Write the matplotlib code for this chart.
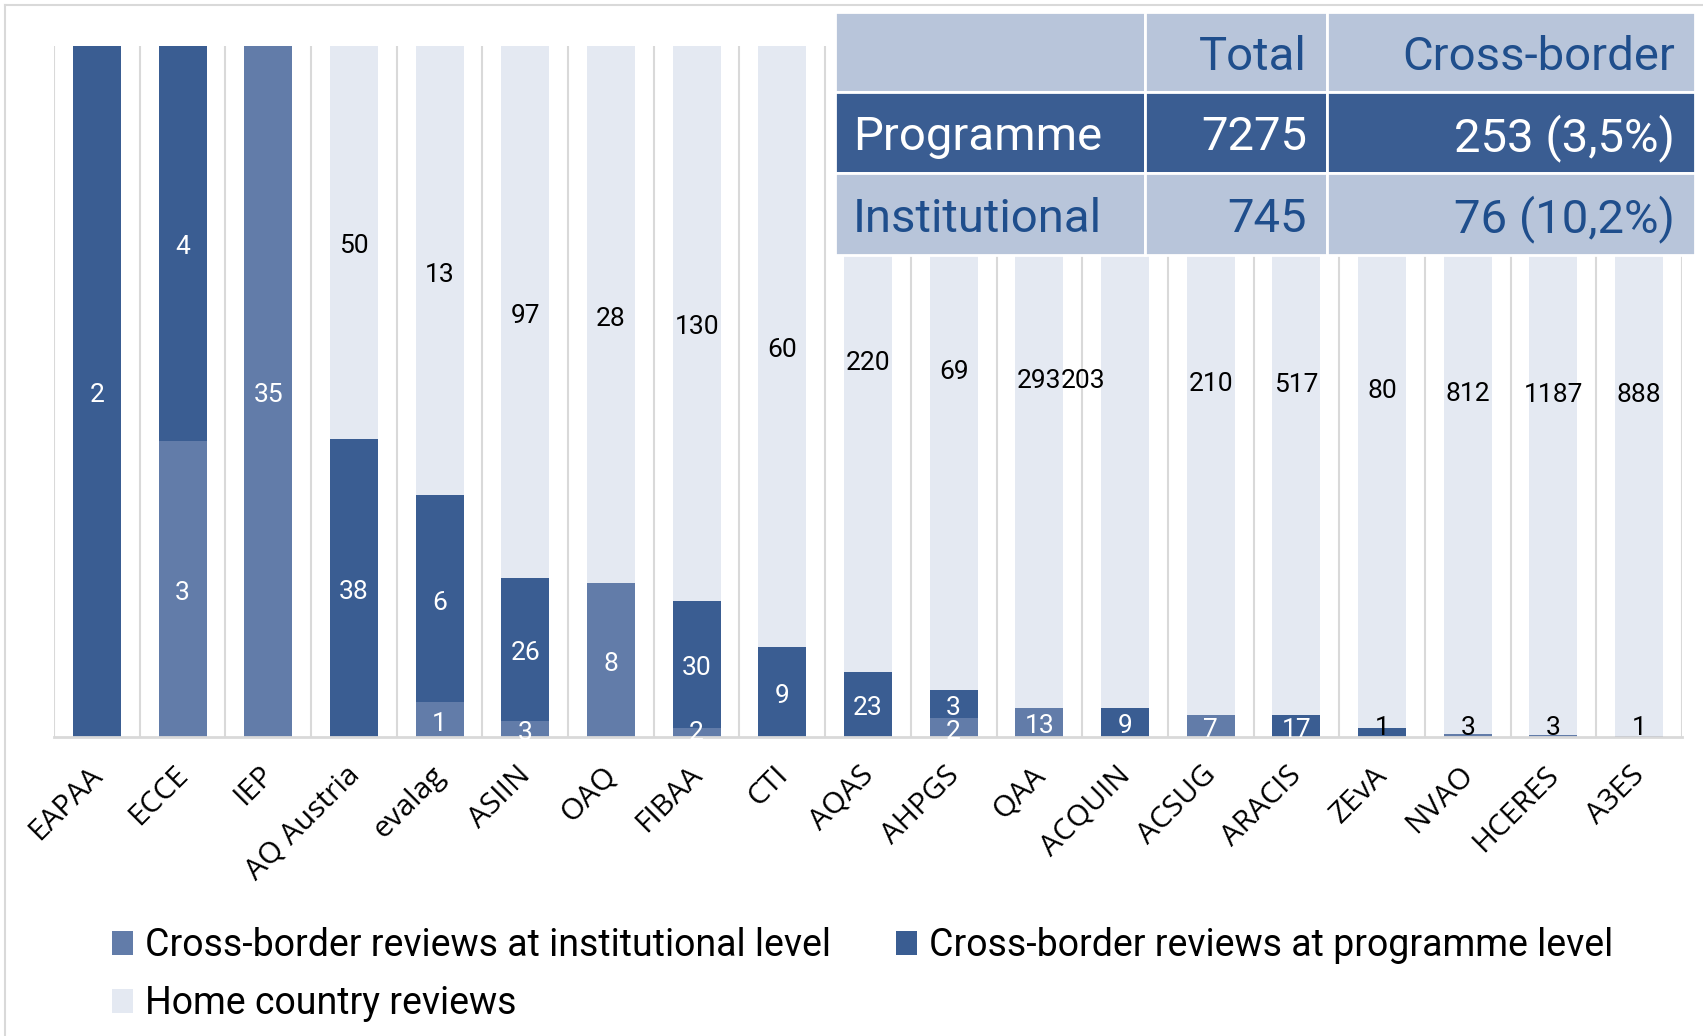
import matplotlib
matplotlib.use("Agg")
import matplotlib.pyplot as plt
from matplotlib.patches import Rectangle, Patch
from matplotlib.lines import Line2D
import numpy as np

# ---------------- data ----------------
agencies = ["EAPAA", "ECCE", "IEP", "AQ Austria", "evalag", "ASIIN", "OAQ", "FIBAA", "CTI",
            "AQAS", "AHPGS", "QAA", "ACQUIN", "ACSUG", "ARACIS", "ZEvA", "NVAO", "HCERES", "A3ES"]
inst_cb = [0, 3, 35, 0, 1, 3, 8, 2, 0, 0, 2, 13, 0, 7, 0, 0, 3, 3, 1]
prog_cb = [2, 4, 0, 38, 6, 26, 0, 30, 9, 23, 3, 0, 9, 0, 17, 1, 0, 0, 0]
home = [0, 0, 0, 50, 13, 97, 28, 130, 60, 220, 69, 293, 203, 210, 517, 80, 812, 1187, 888]

series_names = ["Cross-border reviews at institutional level",
                "Cross-border reviews at programme level",
                "Home country reviews"]

table_header = ["", "Total", "Cross-border"]
table_rows = [["Programme", "7275", "253 (3,5%)"],
              ["Institutional", "745", "76 (10,2%)"]]

# ---------------- style ----------------
C_INST = "#627CA9"
C_PROG = "#3A5D92"
C_HOME = "#E4E9F2"
C_TBL_LIGHT = "#B8C5DA"
C_TBL_TEXT = "#1F4E8C"
GRID = "#D9D9D9"

W, H = 1703, 1036
DPI = 100
fig = plt.figure(figsize=(W / DPI, H / DPI), dpi=DPI)
fig.patch.set_facecolor("white")

def fx(px):
    return px / W

def fy(py):
    return 1 - py / H

ax = fig.add_axes([fx(54), fy(737), fx(1682) - fx(54), fy(46) - fy(737)])

inst = np.array(inst_cb, float)
prog = np.array(prog_cb, float)
hom = np.array(home, float)
tot = inst + prog + hom
f_inst = inst / tot
f_prog = prog / tot
f_home = hom / tot

x = np.arange(len(agencies))
bw = 0.56
ax.bar(x, f_inst, bw, color=C_INST, zorder=2, label=series_names[0])
ax.bar(x, f_prog, bw, bottom=f_inst, color=C_PROG, zorder=2, label=series_names[1])
ax.bar(x, f_home, bw, bottom=f_inst + f_prog, color=C_HOME, zorder=2, label=series_names[2])

ax.set_xlim(-0.5, len(agencies) - 0.5)
ax.set_ylim(0, 1)
for b in np.arange(-0.5, len(agencies), 1.0):
    ax.axvline(b, color=GRID, lw=1.5, zorder=1)
for s in ["top", "right", "left"]:
    ax.spines[s].set_visible(False)
ax.spines["bottom"].set_color(GRID)
ax.spines["bottom"].set_linewidth(2)
ax.spines["bottom"].set_zorder(3)
ax.set_yticks([])
ax.set_xticks(x)
ax.set_xticklabels(agencies, rotation=45, ha="right", va="top", rotation_mode="anchor",
                   fontsize=21.5, family="Open Sans")
ax.tick_params(axis="x", length=0, pad=17)
for lbl in ax.get_xticklabels():
    lbl.set_transform(lbl.get_transform() + matplotlib.transforms.ScaledTranslation(-9 / DPI, 0, fig.dpi_scale_trans))
ax.patch.set_alpha(0)

# ---------------- data labels ----------------
LBL = dict(fontsize=19, family="Roboto", ha="center", va="center", zorder=4)
black_small = {"ZEvA", "NVAO", "HCERES", "A3ES"}
x_offsets = {("ACQUIN", "home"): -42}
for i, name in enumerate(agencies):
    segs = [("inst", inst[i], 0.0, f_inst[i]),
            ("prog", prog[i], f_inst[i], f_prog[i]),
            ("home", hom[i], f_inst[i] + f_prog[i], f_home[i])]
    for key, v, b0, h in segs:
        if v <= 0:
            continue
        yc = b0 + h / 2
        col = "white" if key in ("inst", "prog") else "black"
        if key != "home" and name in black_small:
            col = "black"
            yc = max(yc, 0.019)
        else:
            yc = max(yc, 0.012)
        dx = x_offsets.get((name, key), 0)
        ax.annotate(f"{int(v)}", (x[i], yc), xytext=(dx * 72 / DPI, -4 * 72 / DPI), textcoords="offset points",
                    color=col, **LBL)

# ---------------- legend ----------------
handles = [Patch(facecolor=C_INST), Patch(facecolor=C_HOME), Patch(facecolor=C_PROG)]
labels = [series_names[0], series_names[2], series_names[1]]
fig.legend(handles, labels, loc="upper left", bbox_to_anchor=(fx(112), fy(927)), ncol=2,
           frameon=False, prop=dict(family="Roboto", size=27), handlelength=0.55, handleheight=0.6,
           handletextpad=0.32, columnspacing=1.75, labelspacing=0.57, borderpad=0, borderaxespad=0)

# ---------------- summary table ----------------
col_edges = [835, 1145, 1327, 1695]
row_edges = [12, 92, 173, 255]
row_colors = [C_TBL_LIGHT, C_PROG, C_TBL_LIGHT]
text_colors = [C_TBL_TEXT, "white", C_TBL_TEXT]
all_rows = [table_header] + table_rows
for r in range(3):
    for c in range(3):
        x0, x1 = col_edges[c], col_edges[c + 1]
        y0, y1 = row_edges[r], row_edges[r + 1]
        fig.add_artist(Rectangle((fx(x0), fy(y1)), fx(x1) - fx(x0), fy(y0) - fy(y1),
                                 transform=fig.transFigure, facecolor=row_colors[r],
                                 edgecolor="white", lw=2, zorder=5))
        txt = all_rows[r][c]
        if not txt:
            continue
        if c == 0:
            fig.text(fx(x0 + 18), fy((y0 + y1) / 2), txt, ha="left", va="center_baseline",
                     color=text_colors[r], fontsize=34, family="Roboto", zorder=6)
        else:
            fig.text(fx(x1 - 20), fy((y0 + y1) / 2), txt, ha="right", va="center_baseline",
                     color=text_colors[r], fontsize=34, family="Roboto", zorder=6)

# chart-area border (left and top visible)
fig.add_artist(Line2D([fx(5), fx(5)], [fy(5), 0], transform=fig.transFigure, color="#D9D9D9", lw=1.5))
fig.add_artist(Line2D([fx(5), 1], [fy(5), fy(5)], transform=fig.transFigure, color="#D9D9D9", lw=1.5))

fig.savefig("out.png", dpi=DPI, facecolor="white")
